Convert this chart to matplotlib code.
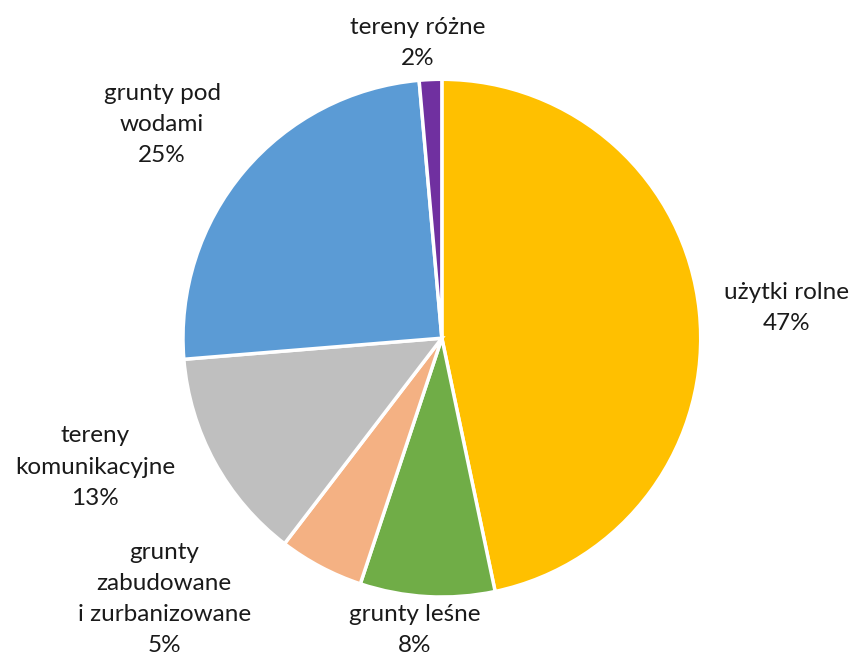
import matplotlib.pyplot as plt

# land use shares (percent), clockwise from 12 o'clock
categories = ['użytki rolne', 'grunty leśne', 'grunty\nzabudowane\ni zurbanizowane',
              'tereny\nkomunikacyjne', 'grunty pod\nwodami', 'tereny różne']
values = [46.7, 8.4, 5.3, 13.3, 24.9, 1.4]
shown_pct = [47, 8, 5, 13, 25, 2]
colors = ['#FFC000', '#70AD47', '#F4B183', '#BFBFBF', '#5B9BD5', '#7030A0']

# label centres, in pie-radius units
label_pos = [(1.332, 0.116), (-0.104, -1.128), (-1.073, -1.008),
             (-1.340, -0.498), (-1.081, 0.826), (-0.093, 1.139)]

plt.rcParams['font.family'] = ['Lato', 'DejaVu Sans']

fig = plt.figure(figsize=(8.53, 6.57), dpi=100)
ax = fig.add_axes([0.2145, 0.0913, 0.607, 0.788])

ax.pie(values, colors=colors, startangle=90, counterclock=False, radius=1,
       wedgeprops=dict(edgecolor='white', linewidth=2.5))
ax.set_xlim(-1, 1)
ax.set_ylim(-1, 1)
ax.set_aspect('equal')

for name, p, (x, y) in zip(categories, shown_pct, label_pos):
    ax.text(x, y, f'{name}\n{p}%', ha='center', va='center', fontsize=17.5,
            color='#1A1A1A', linespacing=1.6, multialignment='center')

fig.savefig('out.png', dpi=100)
